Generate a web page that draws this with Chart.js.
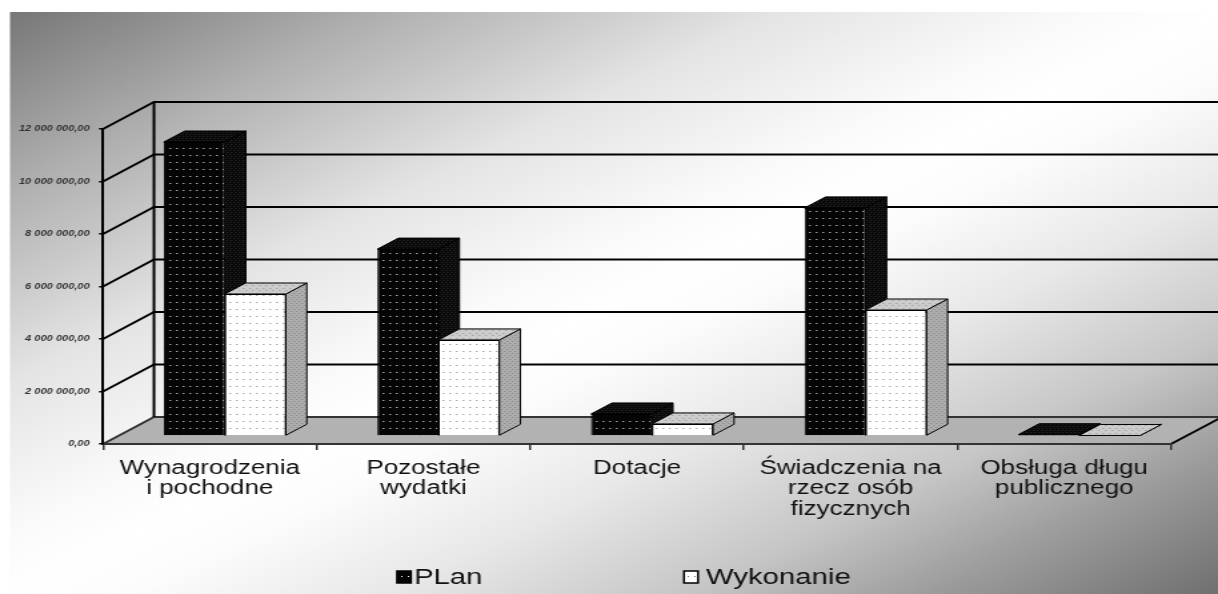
<!DOCTYPE html>
<html><head><meta http-equiv="Content-Type" content="text/html; charset=UTF-8">
  <title>Plan i wykonanie</title>
  <script src="https://cdn.jsdelivr.net/npm/chart.js@4"></script>
  <style>
  html, body { margin: 0; padding: 0; background: #fff; overflow: hidden; }
  /* the reference is a picture stretched sideways, so draw narrow and stretch */
  canvas { transform-origin: 0 0; transform: scaleX(1.33260); filter: blur(0.55px); }
  </style>
</head>
<body>
  <canvas id="bar-chart" width="914" height="594"></canvas>
  <script>
    var categories = [
      ['Wynagrodzenia', 'i pochodne'],
      ['Pozostałe', 'wydatki'],
      ['Dotacje'],
      ['Świadczenia na', 'rzecz osób', 'fizycznych'],
      ['Obsługa długu', 'publicznego']
    ];
    var planValues = [11200000, 7120000, 840000, 8690000, 50000];
    var wykonanieValues = [5410000, 3660000, 460000, 4800000, 20000];
    var seriesNames = ['PLan', 'Wykonanie'];
    var yTicks = { min: 0, max: 12000000, step: 2000000 };

    var K = 1218 / 914;
    var WALL_DX = 51 / K, WALL_DY = 27;
    var BAR_DX = 15 / K, BAR_DY = 8;
    var DEPTH_DX = 21 / K, DEPTH_DY = 11;
    var FONT = '"Liberation Sans", Arial, sans-serif';

    function makePattern(w, h, bg, dot, pts) {
      var c = document.createElement('canvas');
      c.width = w; c.height = h;
      var g = c.getContext('2d');
      g.fillStyle = bg;
      g.fillRect(0, 0, w, h);
      g.fillStyle = dot;
      pts.forEach(function(p) { g.fillRect(p[0], p[1], 1, 1); });
      return g.createPattern(c, 'repeat');
    }

    var darkFront = makePattern(5, 7, '#050505', '#ffffff', [[1, 2]]);
    var lightFront = makePattern(5, 7, '#ffffff', '#777777', [[1, 2]]);
    var darkFace = makePattern(3, 4, '#090909', '#303030', [[0, 0], [2, 2]]);
    var lightSide = makePattern(4, 4, '#adadad', '#808080', [[1, 1], [3, 3]]);
    var lightTop = makePattern(5, 5, '#cccccc', '#919191', [[1, 1], [3, 3]]);
    var faces = [{ side: darkFace, top: darkFace }, { side: lightSide, top: lightTop }];

    function poly(ctx, pts, fill, stroke, width) {
      ctx.beginPath();
      pts.forEach(function(p, i) { if (i) ctx.lineTo(p[0], p[1]); else ctx.moveTo(p[0], p[1]); });
      ctx.closePath();
      if (fill) { ctx.fillStyle = fill; ctx.fill(); }
      if (stroke) { ctx.strokeStyle = stroke; ctx.lineWidth = width; ctx.stroke(); }
    }

    var scene3d = {
      id: 'scene3d',
      beforeDraw: function(chart) {
        var ctx = chart.ctx, x = chart.scales.x, y = chart.scales.y;
        var W = chart.width, H = chart.height, L = 10 / K, T = 12;

        // diagonal background, white along the bottom-left / top-right diagonal
        var cx = (L + W) / 2, cy = (T + H) / 2;
        var ax = H - T, ay = W - L, len = Math.sqrt(ax * ax + ay * ay);
        ax /= len; ay /= len;
        var reach = Math.abs((L - cx) * ax + (T - cy) * ay);
        var grad = ctx.createLinearGradient(cx - ax * reach, cy - ay * reach, cx + ax * reach, cy + ay * reach);
        grad.addColorStop(0, '#777777');
        grad.addColorStop(0.156, '#b0b0b0');
        grad.addColorStop(0.317, '#e4e4e4');
        grad.addColorStop(0.446, '#fafafa');
        grad.addColorStop(0.5, '#ffffff');
        grad.addColorStop(0.55, '#fcfcfc');
        grad.addColorStop(0.656, '#e8e8e8');
        grad.addColorStop(0.78, '#c6c6c6');
        grad.addColorStop(0.88, '#9c9c9c');
        grad.addColorStop(1, '#707070');
        ctx.save();
        ctx.fillStyle = grad;
        ctx.fillRect(L, T, W - L, H - T);

        var y0 = y.getPixelForValue(yTicks.min), yTop = y.getPixelForValue(yTicks.max);
        // floor
        poly(ctx, [[x.left, y0], [x.left + WALL_DX, y0 - WALL_DY], [x.right + WALL_DX, y0 - WALL_DY], [x.right, y0]], '#b2b2b2');

        // side wall diagonals and back wall lines at each tick of the y scale
        y.ticks.forEach(function(t) {
          var py = y.getPixelForValue(t.value);
          ctx.strokeStyle = t.value === yTicks.min ? '#333' : '#000';
          ctx.lineWidth = 2;
          ctx.beginPath();
          ctx.moveTo(x.left, py);
          ctx.lineTo(x.left + WALL_DX, py - WALL_DY);
          ctx.lineTo(W + 5, py - WALL_DY);
          ctx.stroke();
        });
        ctx.strokeStyle = '#000';
        ctx.lineWidth = 2;
        ctx.beginPath();
        ctx.moveTo(x.left + WALL_DX, yTop - WALL_DY);
        ctx.lineTo(x.left + WALL_DX, y0 - WALL_DY);
        ctx.stroke();
        // right edge of the floor
        ctx.beginPath();
        ctx.moveTo(x.right, y0);
        ctx.lineTo(x.right + WALL_DX, y0 - WALL_DY);
        ctx.stroke();
        ctx.restore();
      },
      beforeDatasetsDraw: function(chart) {
        var ctx = chart.ctx;
        ctx.save();
        ctx.translate(BAR_DX, -BAR_DY);
        // depth faces first, PLan then Wykonanie: chart.js paints the fronts in reverse order
        chart.data.datasets.forEach(function(ds, i) {
          var f = faces[i];
          chart.getDatasetMeta(i).data.forEach(function(bar) {
            var l = bar.x - bar.width / 2, r = bar.x + bar.width / 2;
            poly(ctx, [[r, bar.y], [r + DEPTH_DX, bar.y - DEPTH_DY], [r + DEPTH_DX, bar.base - DEPTH_DY], [r, bar.base]], f.side, '#000', 1);
            poly(ctx, [[l, bar.y], [l + DEPTH_DX, bar.y - DEPTH_DY], [r + DEPTH_DX, bar.y - DEPTH_DY], [r, bar.y]], f.top, '#000', 1);
          });
        });
      },
      afterDatasetsDraw: function(chart) {
        chart.ctx.restore();
      },
      afterDraw: function(chart) {
        // legend, spaced wider than the built-in one allows
        var ctx = chart.ctx, xs = [397 / K, 684 / K], tx = [414 / K, 706 / K];
        ctx.save();
        ctx.font = '22px ' + FONT;
        ctx.textBaseline = 'middle';
        chart.data.datasets.forEach(function(ds, i) {
          ctx.fillStyle = ds.backgroundColor;
          ctx.fillRect(xs[i], 571, 10.5, 12);
          ctx.strokeStyle = '#000';
          ctx.lineWidth = 1.5;
          ctx.strokeRect(xs[i], 571, 10.5, 12);
          ctx.fillStyle = '#111';
          ctx.fillText(ds.label, tx[i], 578);
        });
        ctx.restore();
      }
    };

    new Chart(document.getElementById('bar-chart'), {
      type: 'bar',
      data: {
        labels: categories,
        datasets: [
          { label: seriesNames[0], data: planValues, backgroundColor: darkFront },
          { label: seriesNames[1], data: wykonanieValues, backgroundColor: lightFront }
        ]
      },
      plugins: [scene3d],
      options: {
        responsive: false,
        animation: false,
        layout: { padding: { top: 129, left: 0, right: 47 / K, bottom: 0 } },
        datasets: {
          bar: {
            categoryPercentage: 1 / 1.75,
            barPercentage: 1,
            borderColor: '#000',
            borderWidth: 1,
            clip: false
          }
        },
        plugins: {
          legend: { display: false },
          tooltip: { enabled: false }
        },
        scales: {
          x: {
            afterFit: function(axis) { axis.height = 150; },
            border: { color: '#333', width: 2 },
            grid: { drawOnChartArea: false, tickLength: 6, color: '#333', lineWidth: 1.5 },
            ticks: {
              autoSkip: false,
              maxRotation: 0,
              padding: 8,
              color: '#111',
              font: { family: FONT, size: 19.5, lineHeight: 1.05 }
            }
          },
          y: {
            min: yTicks.min,
            max: yTicks.max,
            afterFit: function(axis) { axis.width = 103 / K; },
            border: { color: '#000', width: 2 },
            grid: { drawOnChartArea: false, tickLength: 3, color: '#000', lineWidth: 1.5 },
            ticks: {
              stepSize: yTicks.step,
              padding: 7,
              color: '#333',
              font: { family: FONT, size: 8.3, style: 'italic', weight: 'bold' },
              callback: function(v) {
                return v.toFixed(2).replace('.', ',').replace(/\B(?=(\d{3})+(?!\d))/g, ' ');
              }
            }
          }
        }
      }
    });
  </script>
</body></html>
